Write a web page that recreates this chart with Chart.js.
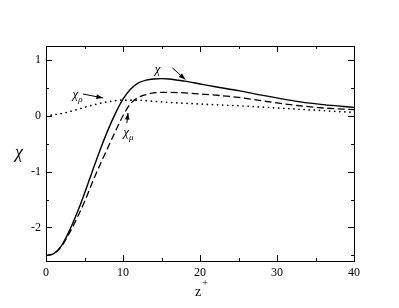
<!DOCTYPE html>
<html>
<head>
<meta charset="utf-8">
<script src="https://cdn.jsdelivr.net/npm/chart.js@4"></script>
<style>
  html, body { margin: 0; padding: 0; background: #fff; overflow: hidden; }
  canvas { display: block; }
</style>
</head>
<body>
<canvas id="chi" width="399" height="308"></canvas>
<script>
// Werte
const chiZ   = [0, 1, 2, 3, 4, 5, 6, 7, 8, 9, 10, 11, 12, 13, 14, 15, 16, 18, 20, 22, 25, 28, 30, 33, 36, 40];
const chiVal = [-2.5, -2.47, -2.33, -2.07, -1.75, -1.39, -1.0, -0.62, -0.27, 0.04, 0.3, 0.48, 0.59, 0.64, 0.66, 0.665, 0.66, 0.62, 0.57, 0.52, 0.45, 0.37, 0.32, 0.25, 0.2, 0.15];

const muZ   = [0, 1, 2, 3, 4, 5, 6, 7, 8, 9, 10, 11, 12, 13, 14, 16, 18, 20, 22, 25, 28, 30, 33, 36, 40];
const muVal = [-2.5, -2.47, -2.34, -2.11, -1.84, -1.54, -1.2, -0.88, -0.58, -0.28, 0.0, 0.22, 0.33, 0.38, 0.41, 0.42, 0.41, 0.39, 0.37, 0.33, 0.27, 0.23, 0.18, 0.14, 0.11];

const rhoZ   = [0, 2, 4, 6, 8, 10, 12, 14, 16, 20, 25, 30, 35, 40];
const rhoVal = [0, 0.04, 0.11, 0.19, 0.25, 0.28, 0.28, 0.26, 0.24, 0.21, 0.18, 0.14, 0.1, 0.06];

const xTicks = [0, 10, 20, 30, 40];
const xMinor = [5, 15, 25, 35];
const yTicks = [-2, -1, 0, 1];
const yMinor = [-2.5, -1.5, -0.5, 0.5];

// Beschriftungen mit Pfeilen (in Datenkoordinaten)
const labels = [
    { text: 'χ', sub: '', at: [14.5, 0.83], from: [16.4, 0.86], to: [18.1, 0.65] },
    { text: 'χ', sub: 'ρ', at: [3.8, 0.38], from: [4.8, 0.39], to: [7.4, 0.32] },
    { text: 'χ', sub: 'μ', at: [10.4, -0.3], from: [10.5, -0.13], to: [10.65, 0.05] }
];

const serif = '"Liberation Serif", "DejaVu Serif", serif';

function pts(xs, ys) {
    return xs.map((x, i) => ({ x: x, y: ys[i] }));
}

// Rahmen, Ticks nach innen, Achsentitel und Pfeile
const framePlugin = {
    id: 'frame',
    afterDraw(chart) {
        const ctx = chart.ctx;
        const xs = chart.scales.x, ys = chart.scales.y;
        const a = chart.chartArea;
        ctx.save();
        ctx.strokeStyle = '#000';
        ctx.lineWidth = 1;
        ctx.strokeRect(a.left + 0.5, a.top + 0.5, a.right - a.left, a.bottom - a.top);
        ctx.beginPath();
        const tick = (vals, len) => {
            vals.forEach(v => {
                const px = Math.round(xs.getPixelForValue(v)) + 0.5;
                ctx.moveTo(px, a.bottom); ctx.lineTo(px, a.bottom - len);
                ctx.moveTo(px, a.top); ctx.lineTo(px, a.top + len);
            });
        };
        const tickY = (vals, len) => {
            vals.forEach(v => {
                const py = Math.round(ys.getPixelForValue(v)) + 0.5;
                ctx.moveTo(a.left, py); ctx.lineTo(a.left + len, py);
                ctx.moveTo(a.right, py); ctx.lineTo(a.right - len, py);
            });
        };
        tick(xTicks, 6); tick(xMinor, 3);
        tickY(yTicks, 6); tickY(yMinor, 3);
        ctx.stroke();

        // Achsentitel
        ctx.fillStyle = '#000';
        ctx.textAlign = 'center';
        ctx.textBaseline = 'middle';
        ctx.font = 'italic 18px ' + serif;
        ctx.fillText('χ', 19, (a.top + a.bottom) / 2);
        ctx.font = '14px ' + serif;
        const cx = (a.left + a.right) / 2;
        ctx.fillText('z', cx - 2, 292);
        ctx.font = '10px ' + serif;
        ctx.fillText('+', cx + 5, 283);

        // Beschriftungen
        labels.forEach(l => {
            const lx = xs.getPixelForValue(l.at[0]), ly = ys.getPixelForValue(l.at[1]);
            ctx.font = 'italic 13px ' + serif;
            ctx.textAlign = 'center';
            ctx.fillText(l.text, lx, ly);
            if (l.sub) {
                ctx.font = 'italic 9px ' + serif;
                ctx.textAlign = 'left';
                ctx.fillText(l.sub, lx + 3, ly + 5);
            }
            const x1 = xs.getPixelForValue(l.from[0]), y1 = ys.getPixelForValue(l.from[1]);
            const x2 = xs.getPixelForValue(l.to[0]), y2 = ys.getPixelForValue(l.to[1]);
            ctx.beginPath();
            ctx.moveTo(x1, y1); ctx.lineTo(x2, y2);
            ctx.stroke();
            const ang = Math.atan2(y2 - y1, x2 - x1);
            ctx.beginPath();
            ctx.moveTo(x2, y2);
            ctx.lineTo(x2 - 7 * Math.cos(ang - 0.35), y2 - 7 * Math.sin(ang - 0.35));
            ctx.lineTo(x2 - 7 * Math.cos(ang + 0.35), y2 - 7 * Math.sin(ang + 0.35));
            ctx.closePath();
            ctx.fill();
        });
        ctx.restore();
    }
};

new Chart(document.getElementById('chi'), {
    type: 'line',
    data: {
        datasets: [{
            label: 'χ',
            data: pts(chiZ, chiVal),
            borderColor: '#000',
            borderWidth: 1.4,
            pointRadius: 0,
            cubicInterpolationMode: 'monotone'
        }, {
            label: 'χμ',
            data: pts(muZ, muVal),
            borderColor: '#000',
            borderWidth: 1.3,
            borderDash: [7, 3.5],
            pointRadius: 0,
            cubicInterpolationMode: 'monotone'
        }, {
            label: 'χρ',
            data: pts(rhoZ, rhoVal),
            borderColor: '#000',
            borderWidth: 1.7,
            borderDash: [0.1, 5],
            borderCapStyle: 'round',
            pointRadius: 0,
            cubicInterpolationMode: 'monotone'
        }]
    },
    options: {
        responsive: false,
        animation: false,
        layout: { padding: { left: 0, right: 45, top: 46, bottom: 0 } },
        plugins: { legend: { display: false }, tooltip: { enabled: false } },
        scales: {
            x: {
                type: 'linear',
                min: 0, max: 40,
                grid: { display: false, drawTicks: false },
                border: { display: false },
                afterBuildTicks: s => { s.ticks = xTicks.map(v => ({ value: v })); },
                afterFit: s => { s.height = 47; },
                ticks: {
                    padding: 5,
                    color: '#000',
                    maxRotation: 0,
                    font: { family: serif, size: 12 }
                }
            },
            y: {
                min: -2.6, max: 1.25,
                grid: { display: false, drawTicks: false },
                border: { display: false },
                afterBuildTicks: s => { s.ticks = yTicks.map(v => ({ value: v })); },
                afterFit: s => { s.width = 46; },
                ticks: {
                    padding: 5,
                    color: '#000',
                    font: { family: serif, size: 12 }
                }
            }
        }
    },
    plugins: [framePlugin]
});
</script>
</body>
</html>
